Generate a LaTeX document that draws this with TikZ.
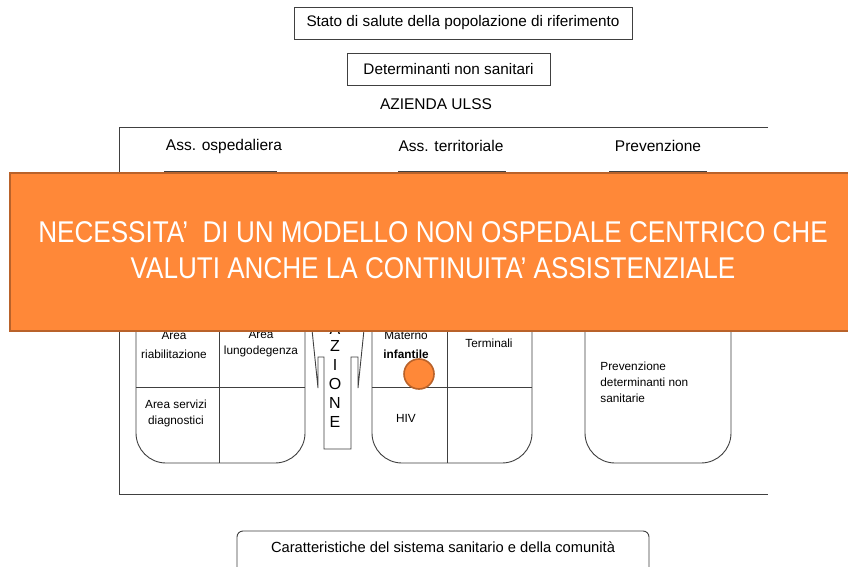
\documentclass[tikz,border=0pt]{standalone}
\usepackage{fontspec}
\setmainfont{Liberation Sans}
\newfontfamily\narrowfont[FakeStretch=0.87]{Liberation Sans}
\definecolor{lncol}{HTML}{404040}
\definecolor{orfill}{HTML}{FF8838}
\definecolor{ordraw}{HTML}{B9622A}
\begin{document}
\begin{tikzpicture}[x=1pt,y=-1pt,
  line width=0.8pt,
  box/.style={draw=lncol,line width=0.9pt,inner sep=0pt,font=\fontsize{15.3}{17}\selectfont},
  head/.style={inner sep=0pt,font=\fontsize{15.5}{17}\selectfont},
  small/.style={inner sep=0pt,align=center,font=\fontsize{11.8}{16}\selectfont},
  letter/.style={inner sep=0pt,font=\fontsize{16}{16}\selectfont},
  frame/.style={draw=lncol,line width=0.9pt},
]
\useasboundingbox (0,0) rectangle (848,567);
\fill[white] (0,0) rectangle (848,567);

% top boxes
\node[box,minimum width=338pt,minimum height=32pt] (stato) at (463,23) {Stato di salute della popolazione di riferimento};
\node[box,minimum width=203pt,minimum height=32pt] (det) at (448.5,69) {Determinanti non sanitari};
\node[head] (azienda) at (436,104) {AZIENDA ULSS};

% outer frame (open at right)
\draw[frame] (768,127) -- (119,127) -- (119,494) -- (768,494);

% headings
\node[head] (hosp) at (224,146) {Ass. ospedaliera};
\node[head] (terr) at (451,146) {Ass. territoriale};
\node[head] (prev) at (658,146) {Prevenzione};
\draw[frame] (164,171) -- (277,171);
\draw[frame] (398,171) -- (506,171);
\draw[frame] (609,171) -- (707,171);

% left rounded box
\draw[frame,rounded corners=30pt] (136,300) -- (136,463) -- (305,463) -- (305,300);
\draw[frame] (219,300) -- (219,463);
\draw[frame] (136,387) -- (305,387);

% middle rounded box
\draw[frame,rounded corners=30pt] (372,300) -- (372,463) -- (532,463) -- (532,300);
\draw[frame] (447,300) -- (447,463);
\draw[frame] (372,387) -- (532,387);

% right rounded box
\draw[frame,rounded corners=30pt] (585,300) -- (585,463) -- (731,463) -- (731,300);

% AZIONE arrow-like shape
\draw[frame] (311,320) -- (318,388) -- (318,357) -- (324,357) -- (324,449) -- (351,449) -- (351,357) -- (358,357) -- (358,388) -- (365,320);
\node[letter] (la) at (335,329) {A};
\node[letter] (lz) at (335,346) {Z};
\node[letter] (li) at (335,365) {I};
\node[letter] (lo) at (335,384) {O};
\node[letter] (ln) at (335,403) {N};
\node[letter] (le) at (335,422) {E};

% texts in cells
\node[small] (riab) at (174,345) {Area\\[3pt]riabilitazione};
\node[small] (lungo) at (261,344) {Area\\lungodegenza};
\node[small] (diag) at (176,413) {Area servizi\\diagnostici};
\node[small] (mat) at (406,345) {Materno\\[3pt]\textbf{infantile}};
\node[small] (term) at (489,343) {Terminali};
\node[small] (hiv) at (406,418) {HIV};
\node[small,align=left,anchor=west] (prevdet) at (600,382) {Prevenzione\\determinanti non\\sanitarie};

% orange marker
\node[circle,fill=orfill,draw=ordraw,line width=1.6pt,minimum size=30pt,inner sep=0pt] (dot) at (419,374) {};

% orange banner
\node[rectangle,fill=orfill,draw=ordraw,line width=1.8pt,minimum width=860pt,minimum height=158pt,anchor=north west,inner sep=0pt] (banner) at (9,172) {};
\node[text=white,align=center,inner sep=0pt,font=\narrowfont\fontsize{30}{36}\selectfont] (msg) at (433,250) {NECESSITA’\ \ DI UN MODELLO NON OSPEDALE CENTRICO CHE\\VALUTI ANCHE LA CONTINUITA’ ASSISTENZIALE};

% bottom box
\draw[frame,rounded corners=6pt] (237,580) -- (237,531) -- (649,531) -- (649,580);
\node[head,font=\fontsize{14.7}{17}\selectfont] (carat) at (443,547) {Caratteristiche del sistema sanitario e della comunità};
\end{tikzpicture}
\end{document}
